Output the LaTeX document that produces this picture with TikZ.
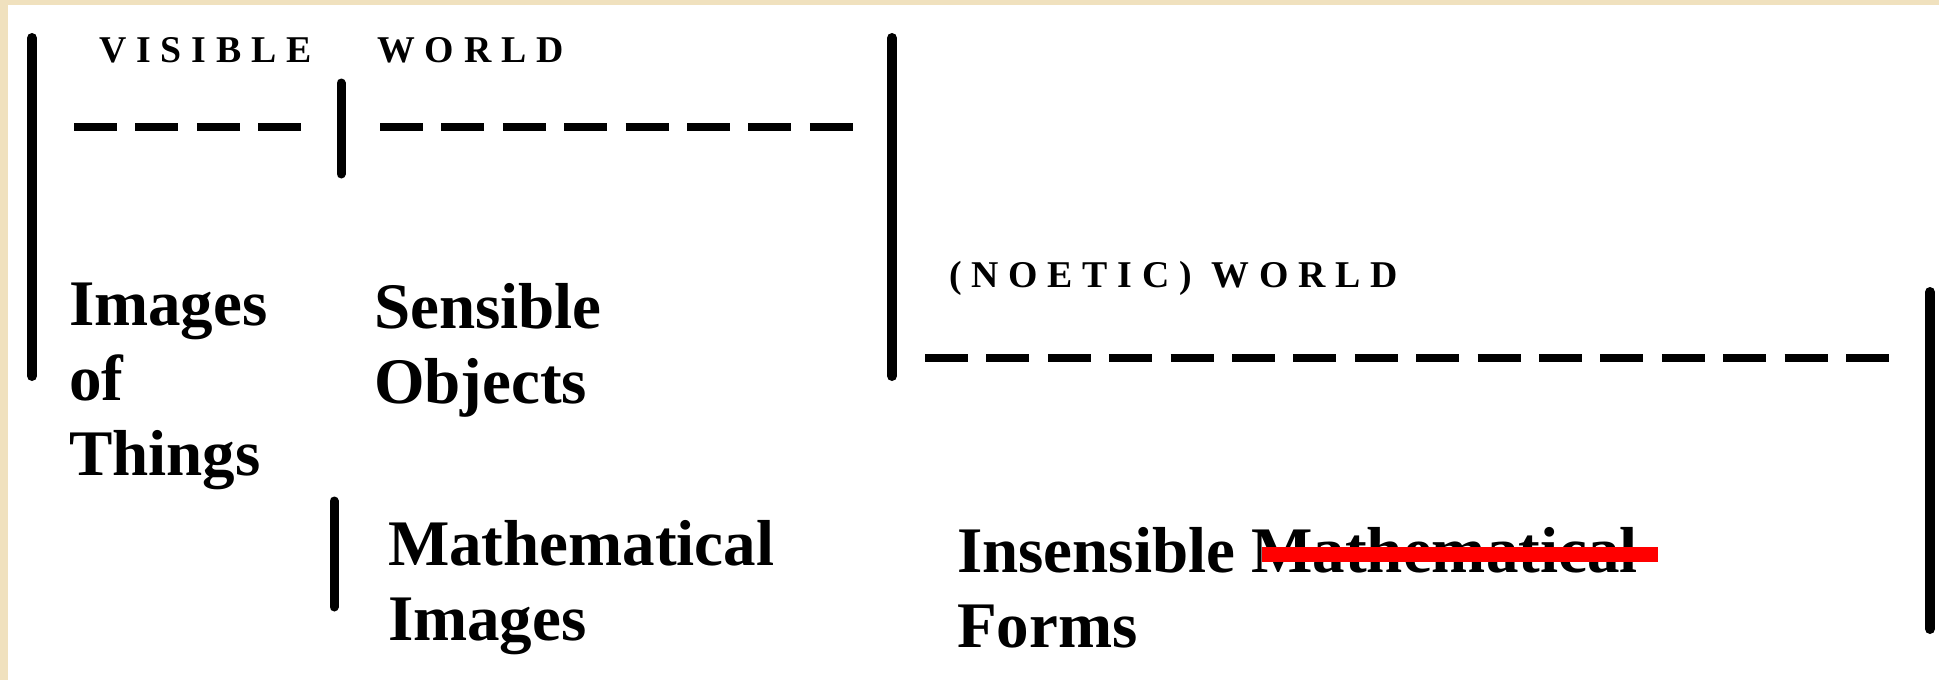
\documentclass[tikz,border=0pt]{standalone}
\usepackage{fontspec}
\setmainfont{Liberation Serif}
\newfontfamily\trackfont[LetterSpace=26]{Liberation Serif}
\usepackage{xcolor}
\definecolor{parchment}{RGB}{240,225,190}
\tikzset{
    every node/.style={inner sep=0pt, outer sep=0pt},
    bigword/.style={font=\fontsize{32.5}{37.5}\selectfont\bfseries, align=left, anchor=base west},
    header/.style={font=\fontsize{18.9}{22}\selectfont\bfseries\trackfont, anchor=base west},
    divider/.style={line width=5pt, line cap=round},
    smalldivider/.style={line width=4.5pt, line cap=round},
    gapline/.style={line width=4pt, dash pattern=on 21.5pt off 9.2pt}
}

\begin{document}
\begin{tikzpicture}[x=0.5pt, y=-0.5pt]
            \useasboundingbox (0,0) rectangle (1939,680);
            \fill[parchment] (0,0) rectangle (1939,680);
            \fill[white] (8,5) rectangle (1939,680);

            % headings
            \node[header] (visible) at (99,62) {VISIBLE\hspace{33pt}WORLD};
            \node[header] (noetic) at (949,287) {(NOETIC) WORLD};

            % the four kinds (base = last line)
            \node[bigword] (images) at (69,475) {Images\\of\\Things};
            \node[bigword] (sensible) at (374,403) {Sensible\\Objects};
            \node[bigword] (mathimg) at (388,640) {Mathematical\\Images};
            \node[bigword] (forms) at (957,647) {Insensible Mathematical\\Forms};
            \draw[red, line width=7.5pt] (1262,554.5) -- (1658,554.5);

            % dividers
            \draw[divider] (32,38) -- (32,376);
            \draw[divider] (892,38) -- (892,376);
            \draw[divider] (1930,292) -- (1930,629);
            \draw[smalldivider] (341,83) -- (341,174);
            \draw[smalldivider] (334,501) -- (334,607);

            % dashed lines
            \draw[gapline] (74,127) -- (303,127);
            \draw[gapline] (380,127) -- (853,127);
            \draw[gapline] (925,358) -- (1889,358);
        \end{tikzpicture}
\end{document}
